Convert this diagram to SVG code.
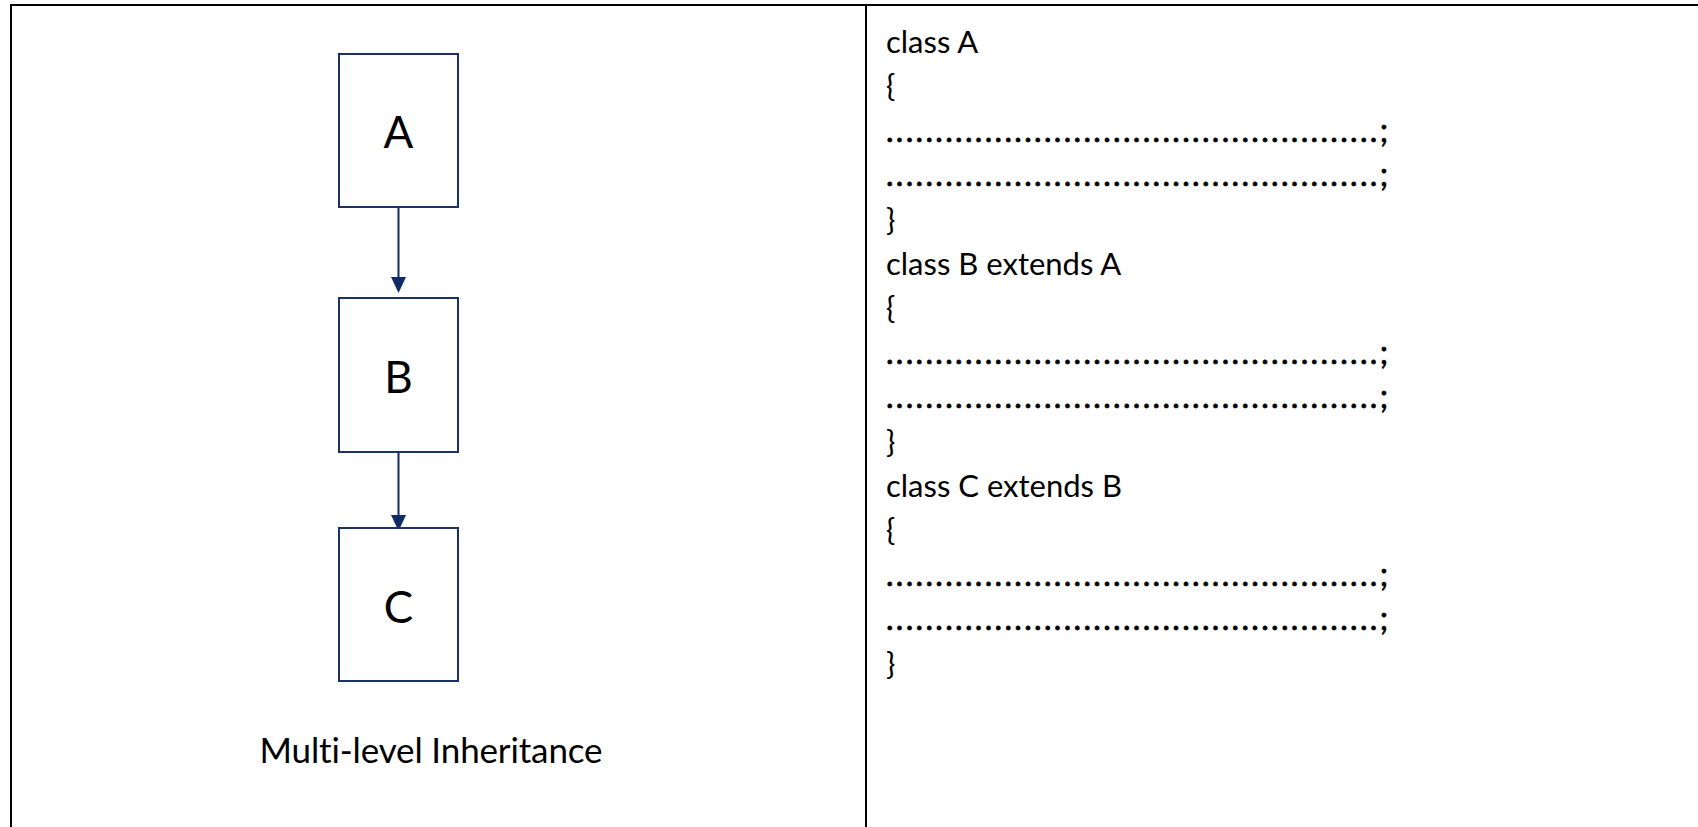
<svg xmlns="http://www.w3.org/2000/svg" width="1698" height="827" viewBox="0 0 1698 827">
  <style>
    text { font-variant-ligatures: none; }
    .grid { stroke: #000000; stroke-width: 2; fill: none; }
    .box { fill: #ffffff; stroke: #1a3169; stroke-width: 2; }
    .boxlabel { font-family: Lato, "Liberation Sans", sans-serif; font-size: 44px; fill: #000000; text-anchor: middle; dominant-baseline: central; }
    .edge { stroke: #0f2a66; stroke-width: 2; fill: none; }
    .code { font-family: Lato, "Liberation Sans", sans-serif; font-size: 31px; fill: #000000; }
    .fill { font-family: Lato, "Liberation Sans", sans-serif; font-size: 32px; fill: #000000; stroke: #000000; stroke-width: 0.7; }
    .caption { font-family: Lato, "Liberation Sans", sans-serif; font-size: 35px; fill: #000000; text-anchor: middle; }
  </style>
  <defs>
    <marker id="arrowhead" viewBox="0 0 16 15" refX="8" refY="7.5" markerWidth="16" markerHeight="15" markerUnits="userSpaceOnUse" orient="auto">
      <path d="M0,0 L16,7.5 L0,15 z" fill="#0f2a66"/>
    </marker>
  </defs>

  <rect width="1698" height="827" fill="#ffffff"/>

  <!-- table rules: top edge, left edge, column divider -->
  <g id="table">
    <line class="grid" x1="11" y1="5" x2="1698" y2="5"/>
    <line class="grid" x1="11" y1="4" x2="11" y2="827"/>
    <line class="grid" x1="866" y1="5" x2="866" y2="827"/>
  </g>

  <!-- inheritance chain -->
  <g id="connectors">
    <line class="edge" x1="398.5" y1="207" x2="398.5" y2="285" marker-end="url(#arrowhead)"/>
    <line class="edge" x1="398.5" y1="452" x2="398.5" y2="523" marker-end="url(#arrowhead)"/>
  </g>

  <g id="node-A">
    <rect class="box" x="339" y="54" width="119" height="153"/>
    <text class="boxlabel" x="398.5" y="131">A</text>
  </g>
  <g id="node-B">
    <rect class="box" x="339" y="298" width="119" height="154"/>
    <text class="boxlabel" x="398.5" y="376">B</text>
  </g>
  <g id="node-C">
    <rect class="box" x="339" y="528" width="119" height="153"/>
    <text class="boxlabel" x="398.5" y="606">C</text>
  </g>

  <text id="caption" class="caption" x="431" y="763" textLength="343">Multi-level Inheritance</text>

  <!-- code listing -->
  <g id="code">
    <text class="code" x="886" y="53">class A</text>
    <text class="code" x="886" y="97.4">{</text>
    <text class="fill" x="886" y="141.8" textLength="502">..................................................;</text>
    <text class="fill" x="886" y="186.2" textLength="502">..................................................;</text>
    <text class="code" x="886" y="230.6">}</text>
    <text class="code" x="886" y="275">class B extends A</text>
    <text class="code" x="886" y="319.4">{</text>
    <text class="fill" x="886" y="363.8" textLength="502">..................................................;</text>
    <text class="fill" x="886" y="408.2" textLength="502">..................................................;</text>
    <text class="code" x="886" y="452.6">}</text>
    <text class="code" x="886" y="497">class C extends B</text>
    <text class="code" x="886" y="541.4">{</text>
    <text class="fill" x="886" y="585.8" textLength="502">..................................................;</text>
    <text class="fill" x="886" y="630.2" textLength="502">..................................................;</text>
    <text class="code" x="886" y="674.6">}</text>
  </g>
</svg>
